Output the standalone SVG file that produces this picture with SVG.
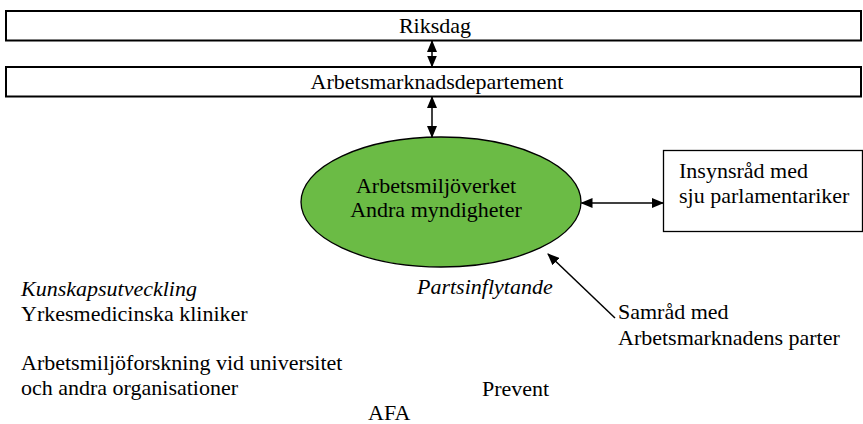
<svg xmlns="http://www.w3.org/2000/svg" width="863" height="424" viewBox="0 0 863 424">
<defs>
<marker id="ah" markerUnits="userSpaceOnUse" markerWidth="12" markerHeight="10" viewBox="0 0 12 10" refX="11" refY="5" orient="auto-start-reverse">
<path d="M0,0 L12,5 L0,10 Z" fill="#000"/>
</marker>
</defs>
<rect width="863" height="424" fill="#fff"/>
<g id="riksdag">
<rect x="6" y="11" width="855" height="29.5" fill="#fff" stroke="#000" stroke-width="2"/>
<text x="435" y="33" text-anchor="middle" font-size="22" font-family="Liberation Serif">Riksdag</text>
</g>
<g id="arbetsmarknadsdepartement">
<rect x="6" y="67" width="855" height="29.5" fill="#fff" stroke="#000" stroke-width="2"/>
<text x="437" y="89" text-anchor="middle" font-size="22" font-family="Liberation Serif">Arbetsmarknadsdepartement</text>
</g>
<g id="arbetsmiljoverket">
<ellipse cx="441" cy="202" rx="140" ry="65" fill="#6BBB45" stroke="#000" stroke-width="1.3"/>
<text x="436" y="193" text-anchor="middle" font-size="22" font-family="Liberation Serif">Arbetsmiljöverket</text>
<text x="436" y="217" text-anchor="middle" font-size="22" font-family="Liberation Serif">Andra myndigheter</text>
</g>
<g id="insynsrad">
<rect x="663.5" y="150.5" width="199" height="81" fill="#fff" stroke="#000" stroke-width="1.3"/>
<text x="679" y="178" font-size="22" font-family="Liberation Serif">Insynsråd med</text>
<text x="679" y="203" font-size="22" font-family="Liberation Serif">sju parlamentariker</text>
</g>
<g id="samrad">
<text x="618" y="319" font-size="22" font-family="Liberation Serif">Samråd med</text>
<text x="618" y="345" font-size="22" font-family="Liberation Serif">Arbetsmarknadens parter</text>
</g>
<g id="kunskap">
<text x="21" y="296" font-style="italic" font-size="22" font-family="Liberation Serif">Kunskapsutveckling</text>
<text x="21" y="321" font-size="22" font-family="Liberation Serif">Yrkesmedicinska kliniker</text>
<text x="21" y="370" font-size="22" font-family="Liberation Serif">Arbetsmiljöforskning vid universitet</text>
<text x="21" y="395" font-size="22" font-family="Liberation Serif">och andra organisationer</text>
</g>
<g id="partsinflytande">
<text x="417" y="294" font-style="italic" font-size="22" font-family="Liberation Serif">Partsinflytande</text>
</g>
<g id="prevent">
<text x="482" y="396" font-size="22" font-family="Liberation Serif">Prevent</text>
</g>
<g id="afa">
<text x="368" y="420" font-size="22" font-family="Liberation Serif">AFA</text>
</g>
<g id="connectors" stroke="#000" stroke-width="1.5" fill="none">
<line x1="432" y1="41" x2="432" y2="66.5" marker-start="url(#ah)" marker-end="url(#ah)"/>
<line x1="432" y1="97" x2="432" y2="137" marker-start="url(#ah)" marker-end="url(#ah)"/>
<line x1="581.5" y1="203" x2="663" y2="203" marker-start="url(#ah)" marker-end="url(#ah)"/>
<line x1="615" y1="318" x2="548" y2="254" marker-end="url(#ah)"/>
</g>
</svg>
